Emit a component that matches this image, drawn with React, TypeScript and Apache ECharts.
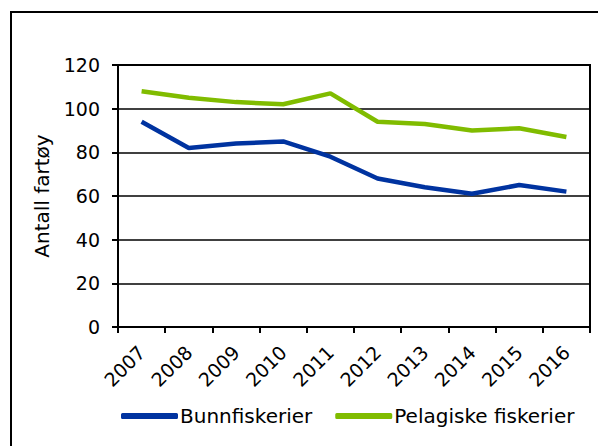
import React, { useEffect, useRef } from "react";
import * as echarts from "echarts";

const years = ["2007", "2008", "2009", "2010", "2011", "2012", "2013", "2014", "2015", "2016"];
const bunnfiskerier = [94, 82, 84, 85, 78, 68, 64, 61, 65, 62];
const pelagiske = [108, 105, 103, 102, 107, 94, 93, 90, 91, 87];
const yTicks = { min: 0, max: 120, interval: 20 };

const FONT = "DejaVu Sans";

export default function App() {
  const ref = useRef<HTMLDivElement>(null);
  useEffect(() => {
    document.body.style.margin = "0";
    if (!ref.current) return;
    const chart = echarts.init(ref.current, null, { renderer: "svg" });
    chart.setOption({
      animation: false,
      backgroundColor: "#ffffff",
      textStyle: { fontFamily: FONT },
      graphic: [
        {
          type: "rect",
          shape: { x: 11, y: 12, width: 620, height: 470 },
          style: { fill: "none", stroke: "#000", lineWidth: 2 },
          silent: true,
        },
      ],
      grid: {
        left: 118,
        right: 8,
        top: 65,
        bottom: 119,
        show: true,
        borderColor: "#000",
        borderWidth: 2,
        containLabel: false,
      },
      legend: {
        bottom: 15,
        left: 116,
        itemWidth: 57,
        itemHeight: 6,
        itemGap: 23,
        icon: "roundRect",
        textStyle: { fontFamily: FONT, fontSize: 20, color: "#000", padding: [0, 0, 0, -3] },
        data: ["Bunnfiskerier", "Pelagiske fiskerier"],
      },
      xAxis: {
        type: "category",
        data: years,
        boundaryGap: true,
        axisLine: { lineStyle: { color: "#000", width: 2 } },
        axisTick: { show: true, length: 6, lineStyle: { color: "#000", width: 2 } },
        axisLabel: { rotate: 45, fontSize: 19, color: "#000", fontFamily: FONT, margin: 22, interval: 0 },
        splitLine: { show: false },
      },
      yAxis: {
        type: "value",
        min: yTicks.min,
        max: yTicks.max,
        interval: yTicks.interval,
        name: "Antall fartøy",
        nameLocation: "middle",
        nameGap: 66,
        nameTextStyle: { fontSize: 20, color: "#000", fontFamily: FONT },
        axisLine: { show: true, lineStyle: { color: "#000", width: 2 } },
        axisTick: { show: true, length: 6, lineStyle: { color: "#000", width: 2 } },
        axisLabel: { fontSize: 19, color: "#000", fontFamily: FONT, margin: 18 },
        splitLine: { show: true, lineStyle: { color: "#000", width: 1.5 } },
      },
      series: [
        {
          name: "Bunnfiskerier",
          type: "line",
          data: bunnfiskerier,
          symbol: "none",
          color: "#0033A0",
          lineStyle: { color: "#0033A0", width: 4.5 },
        },
        {
          name: "Pelagiske fiskerier",
          type: "line",
          data: pelagiske,
          symbol: "none",
          color: "#80BC00",
          lineStyle: { color: "#80BC00", width: 4.5 },
        },
      ],
    });
    return () => chart.dispose();
  }, []);
  return <div ref={ref} style={{ width: 598, height: 446 }} />;
}
